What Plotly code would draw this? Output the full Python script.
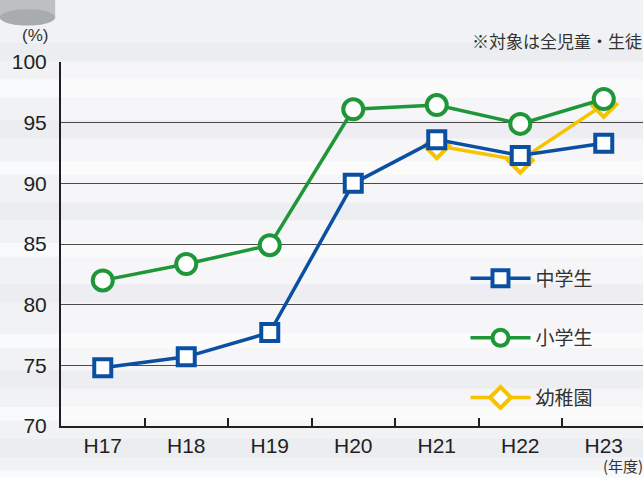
import plotly.graph_objects as go

years = ["H17", "H18", "H19", "H20", "H21", "H22", "H23"]
junior_high = [74.8, 75.7, 77.7, 90.0, 93.6, 92.3, 93.3]
elementary = [82.0, 83.35, 84.9, 96.1, 96.45, 94.9, 96.95]
kindergarten_years = ["H21", "H22", "H23"]
kindergarten = [93.1, 91.9, 96.5]

BLUE = "#0b4fa3"
GREEN = "#1f9638"
YELLOW = "#f7c300"
INK = "#231f20"

fig = go.Figure()

fig.add_trace(go.Scatter(
    x=kindergarten_years, y=kindergarten, name="幼稚園", mode="lines+markers",
    line=dict(color=YELLOW, width=3.5),
    marker=dict(symbol="diamond", size=19, color="white", line=dict(color=YELLOW, width=4)),
    legendrank=3, legendgroup="c",
))
fig.add_trace(go.Scatter(
    x=years, y=junior_high, name="中学生", mode="lines+markers",
    line=dict(color=BLUE, width=3.5),
    marker=dict(symbol="square", size=17, color="white", line=dict(color=BLUE, width=4)),
    legendrank=1, legendgroup="a",
))
fig.add_trace(go.Scatter(
    x=years, y=elementary, name="小学生", mode="lines+markers",
    line=dict(color=GREEN, width=3.5),
    marker=dict(symbol="circle", size=20, color="white", line=dict(color=GREEN, width=4)),
    legendrank=2, legendgroup="b",
))

# subtle horizontal background stripes (decoration)
stripes = [(0.0, 0.03, "#ffffff"), (0.06, 0.10, "#e9eaee"), (0.14, 0.17, "#ffffff"),
           (0.21, 0.25, "#e8e9ed"), (0.30, 0.33, "#ffffff"), (0.40, 0.44, "#e9eaee"),
           (0.50, 0.53, "#ffffff"), (0.58, 0.62, "#e8e9ed"), (0.68, 0.71, "#ffffff"),
           (0.76, 0.80, "#e9eaee"), (0.85, 0.89, "#ffffff"), (0.93, 0.97, "#e8e9ed")]
shapes = []
for y0, y1, c in stripes:
    shapes.append(dict(type="rect", xref="paper", yref="paper", x0=-0.2, x1=1.2,
                       y0=y0 * 1.25 - 0.16, y1=y1 * 1.25 - 0.16, fillcolor=c,
                       line=dict(width=0), layer="below", opacity=0.6))
# decorative cylinder icon at top-left
shapes.append(dict(type="rect", xref="paper", yref="paper", x0=-0.105, x1=-0.01,
                   y0=1.12, y1=1.25, fillcolor="#bdc0c0", line=dict(width=0), layer="below"))
shapes.append(dict(type="circle", xref="paper", yref="paper", x0=-0.105, x1=-0.01,
                   y0=1.10, y1=1.145, fillcolor="#a9acad", line=dict(width=0), layer="below"))

fig.update_layout(
    width=643, height=478,
    margin=dict(l=61, r=0, t=62, b=52),
    paper_bgcolor="#f1f2f4",
    plot_bgcolor="rgba(255,255,255,0.35)",
    font=dict(family="Liberation Sans, Arial, sans-serif", color=INK, size=21),
    showlegend=True,
    legend=dict(
        x=0.695, y=0.458, xanchor="left", yanchor="top",
        bgcolor="rgba(0,0,0,0)", font=dict(size=19, color="#333333",
                                           family="Noto Sans CJK JP, sans-serif"),
        tracegroupgap=32, itemwidth=60,
    ),
    shapes=shapes,
    annotations=[
        dict(text="(%)", xref="paper", yref="paper", x=-0.045, y=1.04, xanchor="center",
             yanchor="bottom", showarrow=False, font=dict(size=17, color="#333333")),
        dict(text="※対象は全児童・生徒", xref="paper", yref="paper", x=0.703, y=1.02,
             xanchor="left", yanchor="bottom", showarrow=False,
             font=dict(size=17, color="#333333", family="Noto Sans CJK JP, sans-serif")),
        dict(text="(年度)", xref="paper", yref="paper", x=0.965, y=-0.108,
             xanchor="center", yanchor="middle", showarrow=False,
             font=dict(size=15, color="#333333", family="Noto Sans CJK JP, sans-serif")),
    ],
)

fig.update_xaxes(
    type="category", categoryorder="array", categoryarray=years,
    range=[-0.5, 6.47], showgrid=False,
    showline=True, linecolor=INK, linewidth=2,
    ticks="inside", tickson="boundaries", ticklen=8, tickcolor=INK, tickwidth=1.5,
    tickfont=dict(size=21, color=INK), zeroline=False,
)
fig.update_yaxes(
    range=[70, 100], dtick=5, tick0=70,
    showgrid=True, gridcolor="#4a4a4a", gridwidth=1,
    showline=True, linecolor=INK, linewidth=2,
    ticks="", ticklabelstandoff=8,
    tickfont=dict(size=21, color=INK), zeroline=False,
)

fig.write_html("out.html", config={"displayModeBar": False},
               post_script="document.body.style.margin='0';document.body.style.padding='0';")
